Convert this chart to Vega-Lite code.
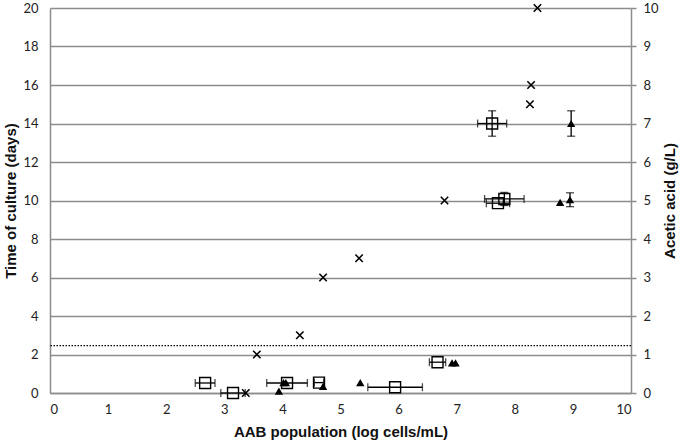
{
  "$schema": "https://vega.github.io/schema/vega-lite/v6.json",
  "width": 581,
  "height": 385,
  "autosize": "none",
  "padding": {"left": 50, "top": 8, "right": 53, "bottom": 53},
  "background": "white",
  "config": {
    "view": {"stroke": null},
    "axis": {
      "labelFont": "Lato",
      "labelFontSize": 13,
      "labelColor": "#222222",
      "titleFont": "Liberation Sans",
      "titleFontSize": 15,
      "titleFontWeight": "bold",
      "titleColor": "#111111",
      "domainColor": "#8c8c8c",
      "domainWidth": 1.5,
      "tickColor": "#8c8c8c",
      "tickWidth": 1.5
    }
  },
  "datasets": {
    "culture": [
      {"pop": 8.39, "days": 20},
      {"pop": 8.28, "days": 16},
      {"pop": 8.26, "days": 15},
      {"pop": 6.79, "days": 10},
      {"pop": 5.32, "days": 7},
      {"pop": 4.70, "days": 6},
      {"pop": 4.30, "days": 3},
      {"pop": 3.56, "days": 2},
      {"pop": 3.37, "days": 0}
    ],
    "acid": [
      {"series": "square", "pop": 2.67, "pop_lo": 2.50, "pop_hi": 2.84, "acid": 0.26, "acid_lo": null, "acid_hi": null},
      {"series": "square", "pop": 3.15, "pop_lo": 2.94, "pop_hi": 3.36, "acid": 0.0, "acid_lo": null, "acid_hi": null},
      {"series": "square", "pop": 4.08, "pop_lo": 3.73, "pop_hi": 4.43, "acid": 0.26, "acid_lo": null, "acid_hi": null},
      {"series": "square", "pop": 4.63, "pop_lo": 4.55, "pop_hi": 4.71, "acid": 0.27, "acid_lo": null, "acid_hi": null},
      {"series": "square", "pop": 5.94, "pop_lo": 5.47, "pop_hi": 6.41, "acid": 0.15, "acid_lo": null, "acid_hi": null},
      {"series": "square", "pop": 6.67, "pop_lo": 6.53, "pop_hi": 6.81, "acid": 0.80, "acid_lo": null, "acid_hi": null},
      {"series": "square", "pop": 7.71, "pop_lo": 7.51, "pop_hi": 7.91, "acid": 4.93, "acid_lo": null, "acid_hi": null},
      {"series": "square", "pop": 7.82, "pop_lo": 7.48, "pop_hi": 8.16, "acid": 5.04, "acid_lo": 4.87, "acid_hi": 5.21},
      {"series": "square", "pop": 7.61, "pop_lo": 7.36, "pop_hi": 7.86, "acid": 7.0, "acid_lo": 6.67, "acid_hi": 7.33},
      {"series": "triangle", "pop": 3.94, "pop_lo": null, "pop_hi": null, "acid": 0.05, "acid_lo": null, "acid_hi": null},
      {"series": "triangle", "pop": 4.02, "pop_lo": null, "pop_hi": null, "acid": 0.27, "acid_lo": null, "acid_hi": null},
      {"series": "triangle", "pop": 4.06, "pop_lo": null, "pop_hi": null, "acid": 0.27, "acid_lo": null, "acid_hi": null},
      {"series": "triangle", "pop": 4.70, "pop_lo": null, "pop_hi": null, "acid": 0.17, "acid_lo": null, "acid_hi": null},
      {"series": "triangle", "pop": 5.34, "pop_lo": null, "pop_hi": null, "acid": 0.27, "acid_lo": null, "acid_hi": null},
      {"series": "triangle", "pop": 6.92, "pop_lo": null, "pop_hi": null, "acid": 0.78, "acid_lo": null, "acid_hi": null},
      {"series": "triangle", "pop": 6.98, "pop_lo": null, "pop_hi": null, "acid": 0.78, "acid_lo": null, "acid_hi": null},
      {"series": "triangle", "pop": 8.78, "pop_lo": null, "pop_hi": null, "acid": 4.95, "acid_lo": null, "acid_hi": null},
      {"series": "triangle", "pop": 8.95, "pop_lo": null, "pop_hi": null, "acid": 5.02, "acid_lo": 4.84, "acid_hi": 5.20},
      {"series": "triangle", "pop": 8.97, "pop_lo": null, "pop_hi": null, "acid": 7.0, "acid_lo": 6.67, "acid_hi": 7.33}
    ],
    "limit": [{"acid": 1.23}]
  },
  "layer": [
    {
      "data": {"name": "culture"},
      "mark": {
        "type": "point",
        "shape": "M-1,-1L1,1M-1,1L1,-1",
        "filled": false,
        "stroke": "black",
        "strokeWidth": 1.6,
        "size": 55,
        "opacity": 1
      },
      "encoding": {
        "x": {
          "field": "pop",
          "type": "quantitative",
          "scale": {"domain": [0, 10], "nice": false},
          "axis": {
            "values": [0, 1, 2, 3, 4, 5, 6, 7, 8, 9, 10],
            "format": "d",
            "ticks": false,
            "grid": false,
            "labelPadding": 10,
            "titlePadding": 8,
            "title": "AAB population (log cells/mL)"
          }
        },
        "y": {
          "field": "days",
          "type": "quantitative",
          "scale": {"domain": [0, 20], "nice": false},
          "axis": {
            "orient": "left",
            "values": [0, 2, 4, 6, 8, 10, 12, 14, 16, 18, 20],
            "ticks": false,
            "grid": true,
            "gridColor": "#8c8c8c",
            "gridWidth": 1.5,
            "labelPadding": 12,
            "titlePadding": 4,
            "title": "Time of culture (days)"
          }
        }
      }
    },
    {
      "data": {"name": "acid"},
      "encoding": {
        "y": {
          "field": "acid",
          "type": "quantitative",
          "scale": {"domain": [0, 10], "nice": false},
          "axis": {
            "orient": "right",
            "values": [0, 1, 2, 3, 4, 5, 6, 7, 8, 9, 10],
            "ticks": true,
            "tickSize": 5,
            "grid": false,
            "labelPadding": 7,
            "titlePadding": 19,
            "titleAngle": 270,
            "title": "Acetic acid (g/L)"
          }
        }
      },
      "layer": [
        {
          "data": {"name": "limit"},
          "mark": {"type": "rule", "color": "black", "strokeWidth": 1.3, "strokeDash": [1.5, 1.5]},
          "encoding": {"y": {"field": "acid", "type": "quantitative"}}
        },
        {
          "transform": [{"filter": "isValid(datum.pop_lo)"}],
          "mark": {"type": "rule", "color": "black", "strokeWidth": 1.3},
          "encoding": {
            "x": {"field": "pop_lo", "type": "quantitative"},
            "x2": {"field": "pop_hi"}
          }
        },
        {
          "transform": [{"filter": "isValid(datum.pop_lo)"}],
          "mark": {"type": "tick", "orient": "vertical", "color": "black", "size": 8, "thickness": 1.3},
          "encoding": {"x": {"field": "pop_lo", "type": "quantitative"}}
        },
        {
          "transform": [{"filter": "isValid(datum.pop_hi)"}],
          "mark": {"type": "tick", "orient": "vertical", "color": "black", "size": 8, "thickness": 1.3},
          "encoding": {"x": {"field": "pop_hi", "type": "quantitative"}}
        },
        {
          "transform": [{"filter": "isValid(datum.acid_lo)"}],
          "mark": {"type": "rule", "color": "black", "strokeWidth": 1.3},
          "encoding": {
            "x": {"field": "pop", "type": "quantitative"},
            "y": {"field": "acid_lo", "type": "quantitative"},
            "y2": {"field": "acid_hi"}
          }
        },
        {
          "transform": [{"filter": "isValid(datum.acid_lo)"}],
          "mark": {"type": "tick", "orient": "horizontal", "color": "black", "size": 8, "thickness": 1.3},
          "encoding": {
            "x": {"field": "pop", "type": "quantitative"},
            "y": {"field": "acid_lo", "type": "quantitative"}
          }
        },
        {
          "transform": [{"filter": "isValid(datum.acid_hi)"}],
          "mark": {"type": "tick", "orient": "horizontal", "color": "black", "size": 8, "thickness": 1.3},
          "encoding": {
            "x": {"field": "pop", "type": "quantitative"},
            "y": {"field": "acid_hi", "type": "quantitative"}
          }
        },
        {
          "transform": [{"filter": "datum.series === 'square'"}],
          "mark": {"type": "point", "shape": "square", "filled": false, "stroke": "black", "strokeWidth": 1.4, "size": 120, "opacity": 1},
          "encoding": {"x": {"field": "pop", "type": "quantitative"}}
        },
        {
          "transform": [{"filter": "datum.series === 'triangle'"}],
          "mark": {"type": "point", "shape": "triangle-up", "filled": true, "color": "black", "size": 70, "opacity": 1},
          "encoding": {"x": {"field": "pop", "type": "quantitative"}}
        }
      ]
    }
  ],
  "resolve": {"scale": {"y": "independent"}, "axis": {"y": "independent"}}
}
